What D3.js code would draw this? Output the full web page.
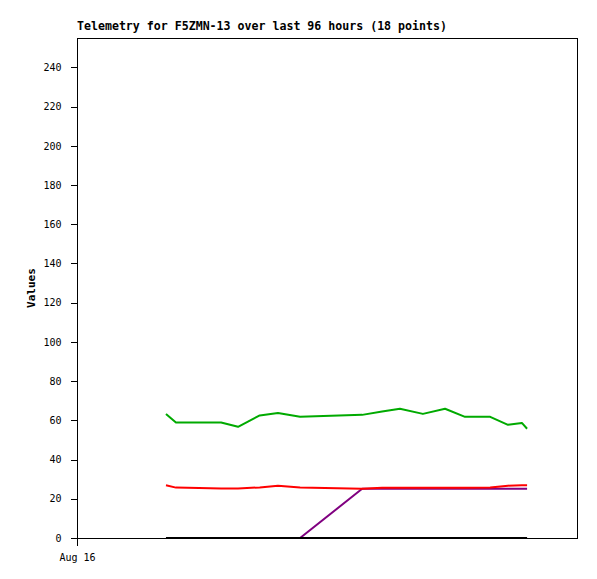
<!DOCTYPE html>
<html>
<head>
<meta charset="utf-8">
<script src="https://cdn.jsdelivr.net/npm/d3@7"></script>
<style>
  html, body { margin: 0; padding: 0; background: #fff; }
  svg { display: block; }
  text { font-family: "DejaVu Sans Mono", "Liberation Mono", monospace; }
</style>
</head>
<body>
<svg id="chart" width="597" height="579"></svg>
<script>
const title = "Telemetry for F5ZMN-13 over last 96 hours (18 points)";
const yLabel = "Values";
const domainStart = "2023-08-16T00:00";
const domainEnd = "2023-08-20T00:00";
const yTicks = [0, 20, 40, 60, 80, 100, 120, 140, 160, 180, 200, 220, 240];
const xTickLabel = "Aug 16";

const times = [
  "2023-08-16T17:05", "2023-08-16T19:00", "2023-08-16T23:25", "2023-08-17T03:40",
  "2023-08-17T06:55", "2023-08-17T11:05", "2023-08-17T14:35", "2023-08-17T18:50",
  "2023-08-18T06:45", "2023-08-18T10:35", "2023-08-18T14:00", "2023-08-18T18:25",
  "2023-08-18T22:40", "2023-08-19T02:30", "2023-08-19T07:20", "2023-08-19T10:45",
  "2023-08-19T13:25", "2023-08-19T14:25"
];
const seriesGreen  = [63.3, 58.9, 58.9, 58.9, 56.7, 62.5, 63.8, 61.8, 62.8, 64.5, 65.9, 63.3, 65.9, 61.8, 61.8, 57.7, 58.7, 55.7];
const seriesRed    = [26.9, 25.7, 25.5, 25.3, 25.2, 25.8, 26.7, 25.7, 25.1, 25.6, 25.6, 25.6, 25.6, 25.6, 25.7, 26.7, 26.9, 26.9];
const seriesPurple = [0, 0, 0, 0, 0, 0, 0, 0, 25.1, 25.1, 25.1, 25.1, 25.1, 25.1, 25.1, 25.1, 25.1, 25.1];
const seriesBlack  = [0, 0, 0, 0, 0, 0, 0, 0, 0, 0, 0, 0, 0, 0, 0, 0, 0, 0];

const series = [
  { values: seriesPurple, color: "#800080" },
  { values: seriesRed, color: "#ff0000" },
  { values: seriesGreen, color: "#00aa00" },
  { values: seriesBlack, color: "#000000" }
];

const svg = d3.select("#chart");
const mLeft = 77, mRight = 577, mTop = 38, mBottom = 538;
const parse = d3.timeParse("%Y-%m-%dT%H:%M");
const x = d3.scaleTime().domain([parse(domainStart), parse(domainEnd)]).range([mLeft, mRight]);
const y = d3.scaleLinear().domain([0, 255]).range([mBottom, mTop]);

svg.append("rect").attr("x", 0).attr("y", 0).attr("width", 597).attr("height", 579).attr("fill", "#fff");

// frame
svg.append("rect")
  .attr("x", mLeft + 0.5).attr("y", mTop + 0.5)
  .attr("width", mRight - mLeft).attr("height", mBottom - mTop)
  .attr("fill", "none").attr("stroke", "#000").attr("stroke-width", 1)
  .attr("shape-rendering", "crispEdges");

// y axis
const yAxis = svg.append("g")
  .attr("transform", `translate(${mLeft + 0.5},0)`)
  .call(d3.axisLeft(y).tickValues(yTicks).tickSize(7).tickPadding(9).tickSizeOuter(0));
yAxis.select(".domain").remove();
yAxis.selectAll("line").attr("shape-rendering", "crispEdges").attr("stroke", "#000");
yAxis.selectAll("text").attr("font-size", "10px").attr("fill", "#000")
  .attr("font-family", "DejaVu Sans Mono, monospace");

// x axis
const xAxis = svg.append("g")
  .attr("transform", `translate(0,${mBottom + 0.5})`)
  .call(d3.axisBottom(x).tickValues([parse(domainStart)]).tickFormat(() => xTickLabel)
    .tickSize(7).tickPadding(8).tickSizeOuter(0));
xAxis.select(".domain").remove();
xAxis.selectAll("line").attr("shape-rendering", "crispEdges").attr("stroke", "#000");
xAxis.selectAll("text").attr("font-size", "10px").attr("fill", "#000")
  .attr("font-family", "DejaVu Sans Mono, monospace");

// lines
const line = d3.line()
  .x((d, i) => x(parse(times[i])))
  .y(d => y(d));
series.forEach(s => {
  svg.append("path")
    .datum(s.values)
    .attr("d", line)
    .attr("fill", "none")
    .attr("stroke", s.color)
    .attr("stroke-width", 2)
    .attr("stroke-linejoin", "round");
});

// title
svg.append("text")
  .attr("x", mLeft).attr("y", 30)
  .attr("font-size", "11.6px").attr("font-weight", "bold")
  .attr("fill", "#000")
  .text(title);

// y label
svg.append("text")
  .attr("transform", `translate(35,${(mTop + mBottom) / 2}) rotate(-90)`)
  .attr("text-anchor", "middle")
  .attr("font-size", "11px").attr("font-weight", "bold")
  .attr("fill", "#000")
  .text(yLabel);
</script>
</body>
</html>
